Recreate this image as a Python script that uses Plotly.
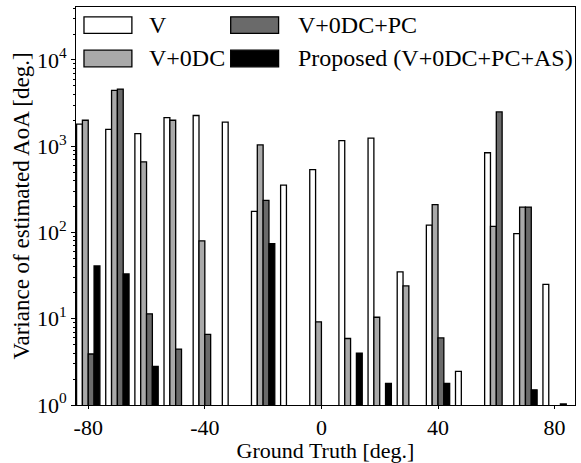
import plotly.graph_objects as go

angles = [-80, -70, -60, -50, -40, -30, -20, -10, 0, 10, 20, 30, 40, 50, 60, 70, 80]
series_names = ["V", "V+0DC", "V+0DC+PC", "Proposed (V+0DC+PC+AS)"]
v_vals = [1800, 1570, 1400, 2150, 2270, 1900, 176, 354, 534, 1160, 1240, 35, 122, 2.45, 840, 97, 25]
v0dc_vals = [2000, 4450, 660, 2000, 80, None, 1035, None, 9.2, 5.9, 10.4, 24, 210, None, 118, 197, None]
v0dcpc_vals = [3.9, 4600, 11.4, 4.45, 6.6, None, 235, None, None, None, None, None, 6.0, None, 2500, 197, None]
proposed_vals = [41, 33, 2.8, None, None, None, 74, None, None, 4.0, 1.78, None, 1.78, None, None, 1.5, 1.03]

y_tickvals = [1, 10, 100, 1000, 10000]
y_ticktext = ["10<sup>0</sup>", "10<sup>1</sup>", "10<sup>2</sup>", "10<sup>3</sup>", "10<sup>4</sup>"]
x_tickvals = [-80, -40, 0, 40, 80]
x_ticktext = ["-80", "-40", "0", "40", "80"]

colors = ["#ffffff", "#a9a9a9", "#6a6a6a", "#000000"]
all_vals = [v_vals, v0dc_vals, v0dcpc_vals, proposed_vals]

FONT = "Liberation Serif"
W, H = 581, 463
L, R, T, B = 76, 5, 7, 50

fig = go.Figure()
for name, vals, col in zip(series_names, all_vals, colors):
    fig.add_trace(go.Bar(
        x=angles, y=vals, name=name, showlegend=False,
        marker=dict(color=col, line=dict(color="black", width=1.3)),
    ))

# custom legend (wide swatches like the reference)
pw, ph = W - L - R, H - T - B
def px2paper(x, y):
    return (x - L) / pw, (H - B - y) / ph

legend_items = [
    (0, 84, 17, 147),   # V
    (1, 84, 51, 147),   # V+0DC
    (2, 231, 17, 296),  # V+0DC+PC
    (3, 231, 51, 296),  # Proposed
]
for idx, sx, sy, tx in legend_items:
    x0, y1 = px2paper(sx, sy)
    x1, y0 = px2paper(sx + 48, sy + 17)
    fig.add_shape(type="rect", xref="paper", yref="paper", x0=x0, x1=x1, y0=y0, y1=y1,
                  fillcolor=colors[idx], line=dict(color="black", width=1.3))
    ax, ay = px2paper(tx, sy + 8.5)
    fig.add_annotation(xref="paper", yref="paper", x=ax, y=ay, text=series_names[idx],
                       showarrow=False, xanchor="left", yanchor="middle",
                       font=dict(family=FONT, size=24, color="black"))

fig.update_layout(
    width=W, height=H,
    margin=dict(l=L, r=R, t=T, b=B),
    paper_bgcolor="white", plot_bgcolor="white",
    barmode="group", bargap=0.2, bargroupgap=0.0,
    font=dict(family=FONT, size=22, color="black"),
)
fig.update_xaxes(
    range=[-84.2, 87], tickvals=x_tickvals, ticktext=x_ticktext,
    showline=True, linecolor="black", linewidth=1, mirror=True,
    ticks="outside", ticklen=3, tickcolor="black", showgrid=False, zeroline=False,
    title=dict(text="Ground Truth [deg.]", font=dict(family=FONT, size=22), standoff=2),
    tickfont=dict(family=FONT, size=22),
)
fig.update_yaxes(
    type="log", range=[0, 4.614], tickvals=y_tickvals, ticktext=y_ticktext,
    showline=True, linecolor="black", linewidth=1, mirror=True,
    ticks="outside", ticklen=4, tickcolor="black", showgrid=False, zeroline=False,
    minor=dict(ticks="outside", ticklen=2, tickcolor="black",
               tickvals=[m * 10 ** e for e in range(0, 5) for m in range(2, 10)], showgrid=False),
    title=dict(text="Variance of estimated AoA [deg.]", font=dict(family=FONT, size=23), standoff=0),
    tickfont=dict(family=FONT, size=22),
)

fig.write_html("out.html")
